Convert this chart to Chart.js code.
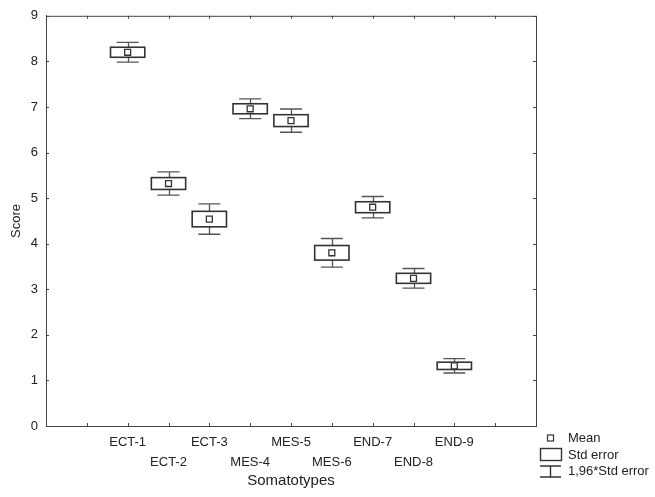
<!DOCTYPE html>
<html>
<head>
<meta charset="utf-8">
<script src="https://cdn.jsdelivr.net/npm/chart.js@4.4.1/dist/chart.umd.min.js"></script>
<style>
  body { margin: 0; background: #fff; }
</style>
</head>
<body>
<canvas id="chart" width="655" height="497"></canvas>
<script>
const somatotypes = ['ECT-1', 'ECT-2', 'ECT-3', 'MES-4', 'MES-5', 'MES-6', 'END-7', 'END-8', 'END-9'];
const meanScores = [8.20, 5.32, 4.54, 6.96, 6.70, 3.80, 4.80, 3.24, 1.32];
const stdErrors = [0.11, 0.13, 0.17, 0.11, 0.13, 0.16, 0.12, 0.11, 0.08];
const xTickValues = [0, 1, 2, 3, 4, 5, 6, 7, 8, 9, 10];
const legendLabels = ['Mean', 'Std error', '1,96*Std error'];

const INK = '#333';
const TEXT = '#222';
const BOX_HALF = 0.42;   // half box width, in x units
const CAP_HALF = 0.27;   // half whisker cap width
const FONT = 'Liberation Sans, Arial, sans-serif';

// boxes (mean +/- SE) and whiskers (mean +/- 1.96*SE)
const boxPlugin = {
  id: 'seBoxes',
  beforeDatasetsDraw(chart) {
    const { ctx, scales: { x, y } } = chart;
    ctx.save();
    meanScores.forEach((m, i) => {
      const pos = i + 1;
      const se = stdErrors[i];
      const ci = 1.96 * se;
      const cx = Math.round(x.getPixelForValue(pos)) + 0.5;
      const wTop = y.getPixelForValue(m + ci);
      const wBot = y.getPixelForValue(m - ci);
      const bTop = y.getPixelForValue(m + se);
      const bBot = y.getPixelForValue(m - se);
      const capL = x.getPixelForValue(pos - CAP_HALF);
      const capR = x.getPixelForValue(pos + CAP_HALF);
      const bL = x.getPixelForValue(pos - BOX_HALF);
      const bR = x.getPixelForValue(pos + BOX_HALF);

      ctx.strokeStyle = '#555';
      ctx.lineWidth = 1.3;
      ctx.beginPath();
      ctx.moveTo(cx, wTop); ctx.lineTo(cx, bTop);
      ctx.moveTo(cx, bBot); ctx.lineTo(cx, wBot);
      ctx.moveTo(capL, wTop); ctx.lineTo(capR, wTop);
      ctx.moveTo(capL, wBot); ctx.lineTo(capR, wBot);
      ctx.stroke();

      ctx.fillStyle = '#fff';
      ctx.fillRect(bL, bTop, bR - bL, bBot - bTop);
      ctx.strokeStyle = INK;
      ctx.lineWidth = 1.6;
      ctx.strokeRect(bL, bTop, bR - bL, bBot - bTop);
    });
    ctx.restore();
  }
};

// plot frame with small inward ticks on all sides, plus the legend
const framePlugin = {
  id: 'frame',
  afterDraw(chart) {
    const { ctx, chartArea: a, scales: { x, y } } = chart;
    ctx.save();
    ctx.strokeStyle = '#444';
    ctx.lineWidth = 1;
    ctx.strokeRect(a.left + 0.5, a.top + 0.5, a.right - a.left, a.bottom - a.top);
    ctx.beginPath();
    xTickValues.forEach(v => {
      const px = Math.round(x.getPixelForValue(v)) + 0.5;
      ctx.moveTo(px, a.bottom); ctx.lineTo(px, a.bottom - 3);
      ctx.moveTo(px, a.top); ctx.lineTo(px, a.top + 3);
    });
    y.ticks.forEach(t => {
      const py = Math.round(y.getPixelForValue(t.value)) + 0.5;
      ctx.moveTo(a.left, py); ctx.lineTo(a.left + 3, py);
      ctx.moveTo(a.right, py); ctx.lineTo(a.right - 3, py);
    });
    ctx.stroke();

    // legend
    const ix = 550.5;
    const tx = 568;
    const rows = [438, 455, 471];
    ctx.strokeStyle = INK;
    ctx.lineWidth = 1.2;
    ctx.strokeRect(ix - 3, rows[0] - 3, 6, 6);
    ctx.lineWidth = 1.4;
    ctx.strokeRect(540.5, 448.5, 21, 12);
    ctx.beginPath();
    ctx.moveTo(540, 466); ctx.lineTo(561, 466);
    ctx.moveTo(ix, 466); ctx.lineTo(ix, 477);
    ctx.moveTo(540, 477); ctx.lineTo(561, 477);
    ctx.stroke();
    ctx.fillStyle = TEXT;
    ctx.font = '13px ' + FONT;
    ctx.textBaseline = 'middle';
    ctx.textAlign = 'left';
    legendLabels.forEach((label, i) => ctx.fillText(label, tx, rows[i]));
    ctx.restore();
  }
};

new Chart(document.getElementById('chart'), {
  type: 'scatter',
  data: {
    datasets: [{
      label: 'Mean',
      data: meanScores.map((m, i) => ({ x: i + 1, y: m })),
      pointStyle: 'rect',
      pointRadius: 4.2,
      pointBackgroundColor: '#fff',
      pointBorderColor: INK,
      pointBorderWidth: 1.3,
    }]
  },
  options: {
    responsive: false,
    animation: false,
    devicePixelRatio: 1,
    layout: { padding: { top: 14, right: 119, bottom: 0, left: 0 } },
    plugins: {
      legend: { display: false },
      tooltip: { enabled: false },
    },
    scales: {
      x: {
        type: 'linear',
        min: -1,
        max: 11,
        afterBuildTicks: (s) => { s.ticks = xTickValues.map(v => ({ value: v })); },
        afterFit: (s) => { s.height = 71; },
        grid: { display: false, drawTicks: false },
        border: { display: true, color: '#444' },
        ticks: {
          autoSkip: false,
          maxRotation: 0,
          padding: 7,
          color: TEXT,
          font: { family: FONT, size: 13, lineHeight: 1.5 },
          callback: (v) => {
            const label = somatotypes[v - 1];
            if (!label) return '';
            return (v - 1) % 2 === 0 ? label : ['', label];
          },
        },
        title: {
          display: true,
          text: 'Somatotypes',
          color: TEXT,
          font: { family: FONT, size: 15 },
          padding: { top: 0, bottom: 7 },
        },
      },
      y: {
        min: 0,
        max: 9,
        afterFit: (s) => { s.width = 46; },
        grid: { display: false, drawTicks: false },
        border: { display: true, color: '#444' },
        ticks: {
          stepSize: 1,
          padding: 8,
          color: TEXT,
          font: { family: FONT, size: 13 },
        },
        title: {
          display: true,
          text: 'Score',
          color: TEXT,
          font: { family: FONT, size: 13 },
          padding: { top: 9, bottom: 0 },
        },
      },
    },
  },
  plugins: [boxPlugin, framePlugin],
});
</script>
</body>
</html>
